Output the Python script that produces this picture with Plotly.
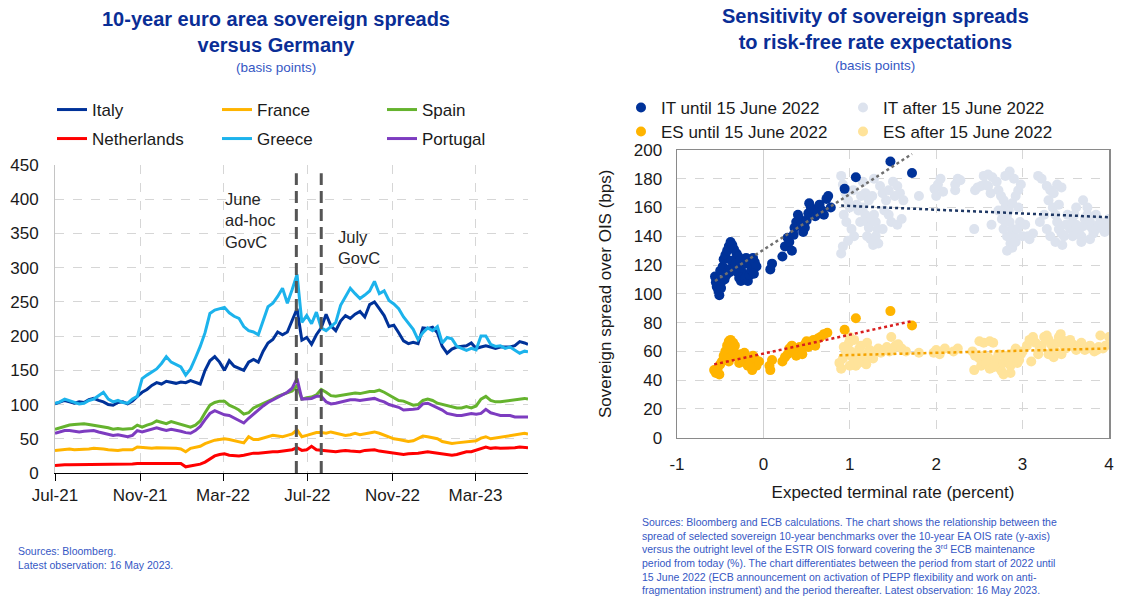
import numpy as np
import pandas as pd
import plotly.graph_objects as go

FONT = "Liberation Sans, Arial, sans-serif"
TITLE_BLUE = "#0a2e96"
NOTE_BLUE = "#3557c4"
TXT = "#1a1a1a"
W, H = 1125, 600

# ---------------- Left panel data (weekly samples, basis points) ----------------
dates = pd.date_range("2021-07-01", periods=98, freq="7D").strftime("%Y-%m-%d").tolist() + ["2023-05-16"]

italy = [101,103,106,104,102,104,103,107,109,106,
         104,100,99,103,104,101,105,112,118,122,
         128,132,130,134,132,131,133,132,135,133,
         130,150,164,170,162,150,164,156,153,150,
         162,166,162,178,190,195,206,202,206,222,
         240,194,198,188,202,212,232,215,208,222,
         230,226,232,236,228,246,250,240,230,214,
         216,205,193,189,191,189,212,211,213,205,
         185,175,181,184,185,186,190,182,184,186,
         184,182,184,184,184,186,192,190,
         188]
greece = [102,104,108,106,103,101,102,106,108,113,
          118,108,104,106,103,102,108,112,138,143,
          148,152,160,170,162,158,155,143,152,168,
          185,205,233,238,240,242,234,229,226,214,
          208,206,202,222,243,248,258,270,248,268,
          290,220,230,218,235,212,208,214,220,245,
          257,270,262,255,260,266,280,262,266,252,
          247,240,228,219,210,195,205,212,208,214,
          190,198,196,185,182,179,182,180,200,200,
          188,185,186,182,184,180,175,178,
          177]
spain = [64,66,69,70,71,72,72,71,70,68,
         67,66,64,65,64,65,65,70,67,70,
         72,76,74,72,75,73,70,68,67,70,
         76,88,99,103,105,105,99,96,92,86,
         88,95,98,102,105,108,112,115,117,120,
         128,108,110,111,114,122,118,113,112,113,
         114,116,117,116,118,119,119,121,118,114,
         110,106,105,102,99,100,106,108,106,102,
         100,98,97,95,95,97,95,98,108,112,
         106,104,104,105,106,106,108,109,
         108]
portugal = [58,60,62,62,61,60,61,62,62,60,
            58,57,55,56,54,53,55,62,60,62,
            63,66,64,62,64,63,61,59,58,62,
            68,78,87,91,88,85,84,80,76,73,
            80,86,93,98,103,107,111,114,118,124,
            138,108,108,109,112,112,104,101,102,104,
            106,107,107,106,107,108,109,106,104,100,
            98,96,92,92,93,94,101,102,99,95,
            92,87,85,84,84,86,87,86,87,93,
            88,86,84,84,84,82,82,83,
            82]
france = [33,34,35,35,34,34,35,35,36,36,
          35,34,33,33,34,34,34,38,37,36,
          36,37,37,37,36,36,35,31,36,37,
          39,43,46,48,49,50,49,47,45,44,
          53,49,49,51,54,55,54,53,55,57,
          63,53,55,57,59,59,58,60,58,57,
          55,56,58,56,57,58,60,58,55,52,
          50,49,48,46,47,50,54,53,52,50,
          46,44,43,44,45,45,46,47,51,53,
          50,51,53,54,54,55,56,58,
          57]
netherlands = [11,12,12,12,12,12,12,12,12,13,
               12,12,12,12,12,12,13,14,14,13,
               13,14,14,14,14,14,14,9,10,11,
               13,16,21,25,27,28,26,25,25,26,
               28,29,29,30,30,31,31,32,33,34,
               37,33,34,39,34,33,32,31,31,32,
               33,32,31,31,33,34,34,32,31,30,
               28,28,27,28,28,29,30,31,30,29,
               27,26,26,27,29,31,31,33,35,38,
               36,37,36,36,37,37,38,37,
               37]

left_ticks = ["2021-07-01", "2021-11-01", "2022-03-01", "2022-07-01", "2022-11-01", "2023-03-01"]
event_dates = ["2022-06-15", "2022-07-21"]

# ---------------- Right panel data (x: percent, y: bps) ----------------
it_until = [(-0.56,112),(-0.55,108),(-0.54,105),(-0.52,102),(-0.51,99),(-0.49,104),(-0.48,109),(-0.50,116),
            (-0.47,119),(-0.46,124),(-0.44,127),(-0.42,130),(-0.40,133),(-0.38,136),(-0.36,134),(-0.34,131),
            (-0.31,128),(-0.29,126),(-0.37,123),(-0.40,117),(-0.43,113),(-0.45,110),(-0.39,115),(-0.33,118),
            (-0.30,115),(-0.28,111),(-0.26,109),(-0.23,114),(-0.21,111),(-0.18,109),(-0.16,113),(-0.14,117),
            (-0.17,121),(-0.20,125),(-0.23,121),(-0.12,125),(-0.10,122),(-0.08,119),(-0.26,118),(-0.32,121),
            (-0.27,123),(-0.11,114),(0.08,117),(0.10,121),(0.22,126),(0.25,133),(0.28,139),(0.30,136),
            (0.33,130),(0.35,141),(0.36,146),(0.38,150),(0.40,155),(0.42,152),(0.44,148),(0.46,143),
            (0.48,146),(0.50,151),(0.52,156),(0.55,160),(0.57,158),(0.53,163),(0.60,154),(0.63,157),
            (0.65,162),(0.68,158),(0.70,155),(0.73,166),(0.75,168),(0.78,160),(0.94,173),(1.07,181),
            (1.47,192),(1.72,184)]
it_after = [(0.90,182),(0.92,176),(0.95,170),(0.98,165),(1.00,160),(0.93,155),(0.96,150),(1.02,145),
            (1.05,140),(0.98,137),(0.92,133),(0.90,128),(1.08,162),(1.10,158),(1.12,150),(1.04,172),
            (1.15,178),(1.13,168),(1.15,160),(1.18,155),(1.20,150),(1.22,146),(1.25,152),(1.28,155),
            (1.30,150),(1.32,145),(1.18,170),(1.22,165),(1.26,168),(1.20,140),(1.24,138),(1.30,140),
            (1.27,134),(1.35,175),(1.38,170),(1.42,165),(1.45,172),(1.50,178),(1.55,175),(1.52,168),
            (1.58,170),(1.62,165),(1.40,158),(1.45,155),(1.48,150),(1.55,148),(1.60,152),(1.38,145),
            (1.33,135),(1.28,180),(1.80,168),(1.98,173),(2.02,176),(2.05,180),(2.00,168),(2.08,171),
            (2.22,176),(2.25,180),(2.28,179),(2.22,172),(2.44,145),(2.64,148),(2.45,172),(2.48,174),
            (2.52,175),(2.56,176),(2.60,175),(2.63,170),(2.55,182),(2.60,183),(2.65,181),(2.70,178),
            (2.72,172),(2.75,168),(2.78,165),(2.80,160),(2.82,155),(2.85,150),(2.88,145),(2.90,140),
            (2.86,135),(2.82,140),(2.78,145),(2.80,150),(2.84,158),(2.88,163),(2.92,168),(2.95,172),
            (2.98,176),(2.90,180),(2.85,185),(2.80,182),(2.95,160),(2.97,150),(2.94,145),(2.88,132),
            (2.92,136),(2.72,158),(2.76,152),(2.82,130),(3.00,140),(3.03,148),(3.06,140),(3.08,138),
            (3.12,142),(3.18,182),(3.22,180),(3.28,175),(3.32,172),(3.30,165),(3.35,160),(3.38,155),
            (3.40,150),(3.42,145),(3.45,142),(3.48,140),(3.50,148),(3.52,155),(3.36,170),(3.40,176),
            (3.45,174),(3.42,162),(3.25,155),(3.20,150),(3.28,145),(3.32,140),(3.38,136),(3.46,134),
            (3.55,145),(3.58,150),(3.60,155),(3.62,148),(3.65,143),(3.68,140),(3.70,147),(3.72,152),
            (3.75,155),(3.78,150),(3.80,146),(3.82,142),(3.85,145),(3.88,148),(3.90,150),(3.92,146),
            (3.95,143),(3.98,148),(4.00,152),(3.75,160),(3.70,165),(3.62,160),(3.85,155),(3.78,138),
            (3.68,136),(3.58,140)]
es_until = [(-0.57,47),(-0.55,45),(-0.53,48),(-0.51,44),(-0.50,51),(-0.48,53),(-0.46,57),(-0.44,60),
            (-0.42,64),(-0.40,67),(-0.38,68),(-0.35,66),(-0.33,64),(-0.36,60),(-0.38,56),(-0.40,53),
            (-0.42,55),(-0.31,58),(-0.29,56),(-0.26,58),(-0.23,55),(-0.20,52),(-0.18,50),(-0.15,53),
            (-0.12,57),(-0.10,55),(-0.08,50),(-0.13,47),(-0.22,59),(-0.28,52),(-0.05,53),(0.07,50),
            (0.10,54),(0.08,47),(0.22,53),(0.25,56),(0.28,58),(0.30,62),(0.33,64),(0.35,60),
            (0.38,57),(0.40,59),(0.42,63),(0.45,62),(0.48,65),(0.50,67),(0.52,63),(0.55,66),
            (0.58,68),(0.60,64),(0.63,69),(0.66,70),(0.70,72),(0.74,73),(0.45,58),(0.94,75),
            (1.07,83),(1.47,88),(1.72,78)]
es_after = [(0.88,52),(0.90,48),(0.92,55),(0.95,58),(0.97,62),(0.99,66),(1.01,60),(1.03,56),
            (1.05,53),(1.07,50),(1.09,58),(1.11,62),(1.13,64),(1.15,57),(1.17,54),(1.19,51),
            (1.21,59),(1.23,61),(1.25,57),(1.27,55),(1.30,60),(1.33,62),(1.36,59),(1.40,61),
            (1.43,63),(1.46,60),(1.50,62),(1.53,64),(1.56,65),(1.60,62),(1.65,60),(1.48,70),
            (1.00,70),(1.05,68),(0.93,63),(1.10,52),(1.20,66),(1.00,50),(1.80,59),(1.97,59),
            (2.00,61),(2.04,58),(2.10,62),(2.20,60),(2.25,62),(2.42,60),(2.45,57),(2.50,55),
            (2.55,57),(2.60,56),(2.44,47),(2.52,50),(2.58,52),(2.62,48),(2.50,67),(2.55,66),
            (2.62,67),(2.66,66),(2.68,54),(2.70,52),(2.72,50),(2.74,48),(2.76,46),(2.78,52),
            (2.80,55),(2.82,57),(2.84,53),(2.86,50),(2.88,56),(2.90,59),(2.92,56),(2.94,52),
            (2.96,54),(2.98,58),(2.86,45),(2.78,44),(2.66,49),(2.72,58),(2.92,62),(3.00,60),
            (3.05,64),(3.08,68),(3.12,70),(3.10,53),(3.18,58),(3.22,64),(3.25,70),(3.28,71),
            (3.30,68),(3.33,65),(3.35,62),(3.38,60),(3.40,66),(3.42,70),(3.44,72),(3.46,68),
            (3.48,64),(3.50,62),(3.52,66),(3.55,68),(3.58,65),(3.60,63),(3.62,61),(3.65,64),
            (3.68,66),(3.70,63),(3.72,61),(3.75,62),(3.78,64),(3.80,62),(3.83,60),(3.86,61),
            (3.88,63),(3.90,71),(3.93,62),(3.96,64),(4.00,70),(3.36,56),(3.30,58),(3.45,58),
            (3.20,62),(3.15,66)]
right_xticks = [-1, 0, 1, 2, 3, 4]
right_xticktext = ["-1", "0", "1", "2", "3", "4"]

# ---------------- Figure ----------------
fig = go.Figure()

left_series = [("Italy", italy, "#003299", "legend"),
               ("France", france, "#ffb400", "legend"),
               ("Spain", spain, "#65b32e", "legend"),
               ("Netherlands", netherlands, "#ff0000", "legend2"),
               ("Greece", greece, "#1cb3ec", "legend2"),
               ("Portugal", portugal, "#7d3cc0", "legend2")]
for name, vals, col, leg in left_series:
    fig.add_trace(go.Scatter(x=dates, y=vals, name=name, mode="lines",
                             line=dict(color=col, width=3), legend=leg,
                             xaxis="x", yaxis="y", hoverinfo="skip"))

def unzip(pts):
    return [p[0] for p in pts], [p[1] for p in pts]

def trend(pts):
    xs, ys = unzip(pts)
    m, b = np.polyfit(xs, ys, 1)
    xx = np.array([min(xs), max(xs)])
    return xx, m * xx + b

groups = [("IT until 15 June 2022", it_until, "#003299", "legend3"),
          ("IT after 15 June 2022", it_after, "#dde3ee", "legend3"),
          ("ES until 15 June 2022", es_until, "#ffb400", "legend4"),
          ("ES after 15 June 2022", es_after, "#ffe39a", "legend4")]
draw_order = [1, 3, 0, 2]
for i in draw_order:
    name, pts, col, leg = groups[i]
    xs, ys = unzip(pts)
    fig.add_trace(go.Scatter(x=xs, y=ys, name=name, mode="markers",
                             marker=dict(color=col, size=10, line=dict(width=0)),
                             legend=leg, legendrank=i, xaxis="x2", yaxis="y2", hoverinfo="skip"))

trend_cols = ["#6f6f6f", "#1f3864", "#d81e1e", "#f5a300"]
for (name, pts, col, leg), tcol in zip(groups, trend_cols):
    tx, ty = trend(pts)
    fig.add_trace(go.Scatter(x=tx, y=ty, mode="lines", showlegend=False,
                             line=dict(color=tcol, width=2.5, dash="dot"),
                             xaxis="x2", yaxis="y2", hoverinfo="skip"))

for d in event_dates:
    fig.add_shape(type="line", xref="x", yref="y", x0=d, x1=d, y0=0, y1=438,
                  line=dict(color="#555555", width=3, dash="12px,6px"))

def px_x(p):
    return p / W

def px_y(p):
    return 1 - p / H

grid = "#d6d6d6"
legend_common = dict(orientation="h", xanchor="left", yanchor="middle",
                     bgcolor="rgba(0,0,0,0)", font=dict(family=FONT, size=17, color=TXT),
                     itemclick=False, itemdoubleclick=False, traceorder="normal")

fig.update_layout(
    width=W, height=H,
    margin=dict(l=0, r=0, t=0, b=0, autoexpand=False),
    paper_bgcolor="white", plot_bgcolor="white",
    font=dict(family=FONT, size=17, color=TXT),
    xaxis=dict(domain=[px_x(55), px_x(528)], type="date", automargin=False,
               range=["2021-07-01", "2023-05-16"],
               tickvals=left_ticks, tickformat="%b-%y",
               ticks="outside", ticklen=7, tickcolor="#000", tickwidth=1,
               showline=True, linecolor="#000", linewidth=1,
               showgrid=True, gridcolor=grid, griddash="dash", gridwidth=1,
               zeroline=False, anchor="y", tickfont=dict(size=17, color=TXT)),
    yaxis=dict(domain=[px_y(473), px_y(165)], range=[0, 450], dtick=50, automargin=False,
               showgrid=True, gridcolor=grid, griddash="dash", gridwidth=1,
               showline=True, linecolor="#c4c4c4", linewidth=1,
               zeroline=False, ticks="", anchor="x", ticklabelstandoff=12,
               tickfont=dict(size=17, color=TXT)),
    xaxis2=dict(domain=[px_x(677), px_x(1109)], range=[-1, 4], automargin=False,
                tickvals=right_xticks, ticktext=right_xticktext,
                showline=True, mirror=True, linecolor="#8a8a8a", linewidth=1.5,
                showgrid=True, gridcolor=grid, griddash="dash", gridwidth=1,
                zeroline=True, zerolinecolor="#cfcfcf", zerolinewidth=1,
                ticks="", anchor="y2", ticklabelstandoff=10,
                tickfont=dict(size=17, color=TXT),
                title=dict(text="Expected terminal rate (percent)", standoff=13,
                           font=dict(size=17, color=TXT))),
    yaxis2=dict(domain=[px_y(437.7), px_y(150)], range=[0, 200], dtick=20, automargin=False,
                showline=True, mirror=True, linecolor="#8a8a8a", linewidth=1.5,
                showgrid=True, gridcolor=grid, griddash="dash", gridwidth=1,
                zeroline=False, ticks="", anchor="x2", ticklabelstandoff=10,
                tickfont=dict(size=17, color=TXT),
                title=dict(text="Sovereign spread over OIS (bps)", standoff=18,
                           font=dict(size=17, color=TXT))),
    legend=dict(x=px_x(52), y=px_y(110), entrywidth=120, **legend_common),
    legend2=dict(x=px_x(52), y=px_y(139), entrywidth=120, **legend_common),
    legend3=dict(x=px_x(621), y=px_y(108), entrywidth=177, **legend_common),
    legend4=dict(x=px_x(621), y=px_y(132), entrywidth=177, **legend_common),
    showlegend=True,
)

annotations = [
    dict(text="<b>10-year euro area sovereign spreads<br>versus Germany</b>",
         x=px_x(276), y=px_y(6), xanchor="center", yanchor="top",
         font=dict(size=20, color=TITLE_BLUE)),
    dict(text="(basis points)", x=px_x(276), y=px_y(68), xanchor="center", yanchor="middle",
         font=dict(size=13.5, color=NOTE_BLUE)),
    dict(text="<b>Sensitivity of sovereign spreads<br>to risk-free rate expectations</b>",
         x=px_x(875), y=px_y(3), xanchor="center", yanchor="top",
         font=dict(size=20, color=TITLE_BLUE)),
    dict(text="(basis points)", x=px_x(875), y=px_y(65), xanchor="center", yanchor="middle",
         font=dict(size=13.5, color=NOTE_BLUE)),
    dict(text="June<br>ad-hoc<br>GovC", x=px_x(223), y=px_y(188), xanchor="left", yanchor="top",
         align="left", font=dict(size=16.5, color="#262626")),
    dict(text="July<br>GovC", x=px_x(336), y=px_y(226), xanchor="left", yanchor="top",
         align="left", font=dict(size=16.5, color="#262626")),
    dict(text="Sources: Bloomberg.<br>Latest observation: 16 May 2023.",
         x=px_x(16), y=px_y(543), xanchor="left", yanchor="top", align="left",
         font=dict(size=10.5, color=NOTE_BLUE)),
    dict(text="Sources: Bloomberg and ECB calculations. The chart shows the relationship between the<br>"
              "spread of selected sovereign 10-year benchmarks over the 10-year EA OIS rate (y-axis)<br>"
              "versus the outright level of the ESTR OIS forward covering the 3<sup>rd</sup> ECB maintenance<br>"
              "period from today (%). The chart differentiates between the period from start of 2022 until<br>"
              "15 June 2022 (ECB announcement on activation of PEPP flexibility and work on anti-<br>"
              "fragmentation instrument) and the period thereafter. Latest observation: 16 May 2023.",
         x=px_x(640), y=px_y(514), xanchor="left", yanchor="top", align="left",
         font=dict(size=10.5, color=NOTE_BLUE)),
]
for a in annotations:
    a.update(xref="paper", yref="paper", showarrow=False)
fig.update_layout(annotations=annotations)

# remove the browser's default 8px page margin so the figure fills the window exactly
fig.write_html("out.html",
               config={"displayModeBar": False, "staticPlot": True},
               post_script="document.body.style.margin='0';document.body.style.overflow='hidden';")
